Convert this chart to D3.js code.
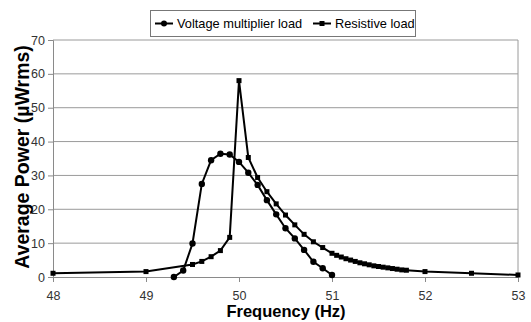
<!DOCTYPE html>
<html>
<head>
<meta charset="utf-8">
<script src="https://cdn.jsdelivr.net/npm/d3@7"></script>
<style>
  body { margin: 0; background: #fff; }
  svg { display: block; font-family: "Liberation Sans", Arial, sans-serif; }
</style>
</head>
<body>
<svg width="531" height="322"></svg>
<script>
// voltage multiplier load (circles)
const vmFreq  = [49.3, 49.4, 49.5, 49.6, 49.7, 49.8, 49.9, 50.0, 50.1, 50.2, 50.3, 50.4, 50.5, 50.6, 50.7, 50.8, 50.9, 51.0];
const vmPower = [0.0, 1.9, 9.9, 27.5, 34.5, 36.4, 36.2, 34.0, 30.8, 27.2, 22.7, 18.5, 14.4, 11.4, 8.0, 4.5, 2.6, 0.6];

// resistive load (squares)
const resFreq  = [48, 49, 49.5, 49.6, 49.7, 49.8, 49.9, 50.0, 50.1, 50.2, 50.3, 50.4, 50.5, 50.6, 50.7, 50.8, 50.9, 51.0,
                  51.05, 51.1, 51.15, 51.2, 51.25, 51.3, 51.35, 51.4, 51.45, 51.5, 51.55, 51.6, 51.65, 51.7, 51.75, 51.8,
                  52.0, 52.5, 53.0];
const resPower = [1.1, 1.6, 3.7, 4.6, 6.0, 7.8, 11.7, 58.0, 35.3, 29.4, 25.2, 21.6, 18.3, 15.4, 12.6, 10.4, 8.7, 7.0,
                  6.4, 5.9, 5.4, 5.0, 4.6, 4.2, 3.9, 3.6, 3.3, 3.1, 2.9, 2.7, 2.5, 2.3, 2.1, 2.0,
                  1.6, 1.1, 0.6];

const xTicks = [48, 49, 50, 51, 52, 53];
const yTicks = [0, 10, 20, 30, 40, 50, 60, 70];
const seriesNames = ['Voltage multiplier load', 'Resistive load'];

const mLeft = 53, mRight = 518, mTop = 40, mBottom = 277;
const svg = d3.select('svg');

const x = d3.scaleLinear().domain([48, 53]).range([mLeft, mRight]);
const y = d3.scaleLinear().domain([0, 70]).range([mBottom, mTop]);

// gridlines
svg.append('g')
  .selectAll('line')
  .data(yTicks.filter(d => d > 0))
  .enter().append('line')
  .attr('x1', mLeft).attr('x2', mRight)
  .attr('y1', d => y(d)).attr('y2', d => y(d))
  .attr('stroke', '#9a9a9a').attr('stroke-width', 1);

// right border
svg.append('line')
  .attr('x1', mRight).attr('x2', mRight).attr('y1', mTop).attr('y2', mBottom)
  .attr('stroke', '#9a9a9a');

// axes
const yAxis = svg.append('g')
  .attr('transform', 'translate(' + mLeft + ',0)')
  .call(d3.axisLeft(y).tickValues(yTicks).tickSize(5).tickPadding(3).tickFormat(d3.format('d')));
const xAxis = svg.append('g')
  .attr('transform', 'translate(0,' + mBottom + ')')
  .call(d3.axisBottom(x).tickValues(xTicks).tickSize(5).tickPadding(9).tickFormat(d3.format('d')));

[xAxis, yAxis].forEach(function (a) {
  a.select('.domain').attr('stroke', '#8a8a8a');
  a.selectAll('.tick line').attr('stroke', '#8a8a8a');
  a.selectAll('.tick text')
    .attr('fill', '#333')
    .style('font-size', '12.5px')
    .style('font-family', '"Liberation Sans", Arial, sans-serif');
});

// data lines
const line = d3.line().x(d => x(d[0])).y(d => y(d[1]));
const vmData = vmFreq.map((f, i) => [f, vmPower[i]]);
const resData = resFreq.map((f, i) => [f, resPower[i]]);

svg.append('path').datum(resData)
  .attr('d', line).attr('fill', 'none').attr('stroke', '#000').attr('stroke-width', 2);
svg.append('path').datum(vmData)
  .attr('d', line).attr('fill', 'none').attr('stroke', '#000').attr('stroke-width', 2);

svg.append('g').selectAll('rect')
  .data(resData).enter().append('rect')
  .attr('x', d => x(d[0]) - 2.5).attr('y', d => y(d[1]) - 2.5)
  .attr('width', 5).attr('height', 5).attr('fill', '#000');

svg.append('g').selectAll('circle')
  .data(vmData).enter().append('circle')
  .attr('cx', d => x(d[0])).attr('cy', d => y(d[1]))
  .attr('r', 3.2).attr('fill', '#000');

// axis titles
svg.append('text')
  .attr('x', 286).attr('y', 317)
  .attr('text-anchor', 'middle')
  .style('font-size', '16.5px').style('font-weight', 'bold')
  .text('Frequency (Hz)');

svg.append('text')
  .attr('transform', 'translate(29,157) rotate(-90)')
  .attr('text-anchor', 'middle')
  .style('font-size', '19.5px').style('font-weight', 'bold')
  .text('Average Power (\u00b5Wrms)');

// legend
const legend = svg.append('g');
legend.append('rect')
  .attr('x', 150.5).attr('y', 10.5).attr('width', 265).attr('height', 26)
  .attr('fill', '#fff').attr('stroke', '#777');

const legendItems = [
  { name: seriesNames[0], lx: 155, shape: 'circle' },
  { name: seriesNames[1], lx: 313, shape: 'square' }
];
legendItems.forEach(function (it) {
  const cy = 23.5;
  legend.append('line')
    .attr('x1', it.lx).attr('x2', it.lx + 18).attr('y1', cy).attr('y2', cy)
    .attr('stroke', '#000').attr('stroke-width', 2);
  if (it.shape === 'circle') {
    legend.append('circle').attr('cx', it.lx + 9).attr('cy', cy).attr('r', 3).attr('fill', '#000');
  } else {
    legend.append('rect').attr('x', it.lx + 6.5).attr('y', cy - 2.5).attr('width', 5).attr('height', 5).attr('fill', '#000');
  }
  legend.append('text')
    .attr('x', it.lx + 22).attr('y', cy + 4.5)
    .style('font-size', '12.8px')
    .attr('fill', '#000')
    .text(it.name);
});
</script>
</body>
</html>
